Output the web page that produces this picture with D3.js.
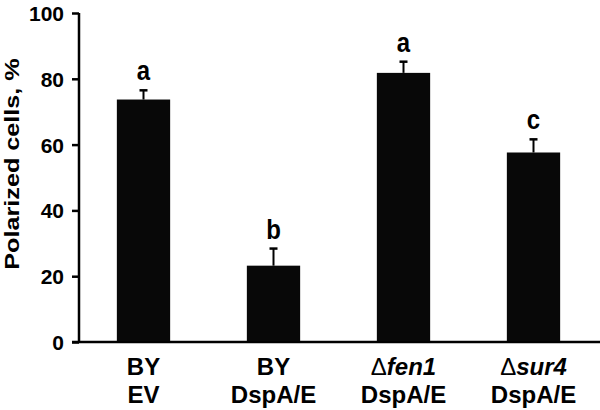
<!DOCTYPE html>
<html>
<head>
<meta charset="utf-8">
<script src="https://cdn.jsdelivr.net/npm/d3@7"></script>
<style>
  body { margin: 0; background: #fff; }
  svg text { font-family: "Liberation Sans", Arial, sans-serif; font-weight: bold; fill: #000; }
</style>
</head>
<body>
<div id="chart"></div>
<script>
// data
const strains = ['BY', 'BY', '\u0394fen1', '\u0394sur4'];
const strainItalic = [null, null, 'fen1', 'sur4'];
const plasmids = ['EV', 'DspA/E', 'DspA/E', 'DspA/E'];
const values = [73.7, 23.2, 81.8, 57.6];
const errors = [2.8, 5.2, 3.4, 4.0];
const letters = ['a', 'b', 'a', 'c'];
const yTicks = [0, 20, 40, 60, 80, 100];

const width = 600, height = 410;
const svg = d3.select('#chart').append('svg')
  .attr('width', width)
  .attr('height', height);

const ids = d3.range(values.length);
const x = d3.scaleBand()
  .domain(ids)
  .range([78.5, 598.5])
  .paddingInner(0.59)
  .paddingOuter(0.295);

const y = d3.scaleLinear().domain([0, 100]).range([342, 13]);

// bars
svg.selectAll('rect.bar').data(ids).enter()
  .append('rect')
  .attr('class', 'bar')
  .attr('x', i => x(i))
  .attr('width', x.bandwidth())
  .attr('y', i => y(values[i]))
  .attr('height', i => y(0) - y(values[i]))
  .attr('fill', '#080808');

// error bars (upper only)
const cx = i => x(i) + x.bandwidth() / 2;
svg.selectAll('line.err').data(ids).enter()
  .append('line')
  .attr('x1', cx).attr('x2', cx)
  .attr('y1', i => y(values[i]))
  .attr('y2', i => y(values[i] + errors[i]))
  .attr('stroke', '#000').attr('stroke-width', 2);
svg.selectAll('line.cap').data(ids).enter()
  .append('line')
  .attr('x1', i => cx(i) - 4).attr('x2', i => cx(i) + 4)
  .attr('y1', i => y(values[i] + errors[i]))
  .attr('y2', i => y(values[i] + errors[i]))
  .attr('stroke', '#000').attr('stroke-width', 2.5);

// significance letters
svg.selectAll('text.sig').data(ids).enter()
  .append('text')
  .attr('transform', i => `translate(${cx(i)},${y(values[i] + errors[i]) - 10}) scale(1,1.12)`)
  .attr('text-anchor', 'middle')
  .style('font-size', '24px')
  .text(i => letters[i]);

// y axis
const yAxis = svg.append('g')
  .attr('transform', 'translate(79,0)')
  .call(d3.axisLeft(y).tickValues(yTicks).tickSize(7).tickPadding(8));
yAxis.select('.domain').attr('stroke-width', 2.5).attr('d', `M0,${y(0)}V${y(100)}`);
yAxis.selectAll('.tick line').attr('stroke-width', 2.5);
yAxis.selectAll('.tick text')
  .attr('dy', '0.36em')
  .style('font-size', '21px')
  .style('font-family', '"Liberation Sans", Arial, sans-serif')
  .style('font-weight', 'bold');

// x axis line
svg.append('line')
  .attr('x1', 72).attr('x2', 600)
  .attr('y1', y(0)).attr('y2', y(0))
  .attr('stroke', '#000').attr('stroke-width', 2.5);

// x labels
const line1 = svg.selectAll('text.xl1').data(ids).enter()
  .append('text')
  .attr('x', cx)
  .attr('y', 375)
  .attr('text-anchor', 'middle')
  .style('font-size', '24px');
line1.each(function (i) {
  const t = d3.select(this);
  if (strainItalic[i]) {
    t.append('tspan').text(strains[i].slice(0, 1)).style('font-weight', 'normal');
    t.append('tspan').text(strainItalic[i]).style('font-style', 'italic');
  } else {
    t.text(strains[i]);
  }
});
svg.selectAll('text.xl2').data(ids).enter()
  .append('text')
  .attr('x', cx)
  .attr('y', 403)
  .attr('text-anchor', 'middle')
  .style('font-size', '24px')
  .text(i => plasmids[i]);

// y title
svg.append('text')
  .attr('transform', 'translate(19,164) rotate(-90) scale(1.2,1)')
  .attr('text-anchor', 'middle')
  .style('font-size', '21px')
  .text('Polarized cells, %');
</script>
</body>
</html>
